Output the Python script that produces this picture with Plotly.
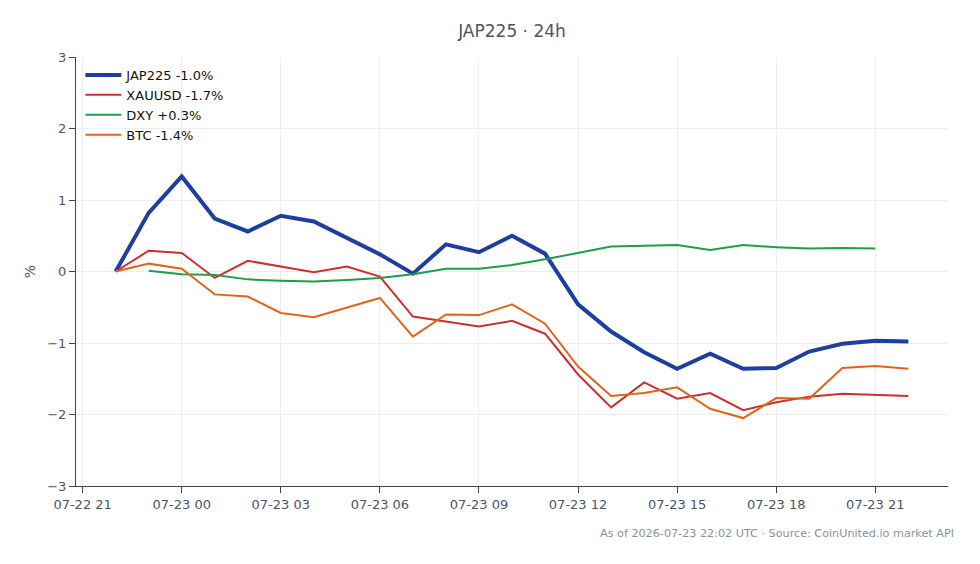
import plotly.graph_objects as go
import pandas as pd

times = pd.date_range("2026-07-22 22:00", "2026-07-23 22:00", freq="h")

jap225 = [0.0, 0.82, 1.33, 0.74, 0.56, 0.78, 0.70, 0.47, 0.24, -0.03, 0.38, 0.27, 0.50,
          0.25, -0.46, -0.84, -1.13, -1.36, -1.15, -1.36, -1.35, -1.12, -1.01, -0.97, -0.98]
xauusd = [0.0, 0.29, 0.26, -0.09, 0.15, 0.07, -0.01, 0.07, -0.07, -0.63, -0.70, -0.77, -0.69,
          -0.87, -1.44, -1.90, -1.55, -1.78, -1.70, -1.94, -1.83, -1.75, -1.71, -1.72, -1.74]
dxy = [None, 0.01, -0.04, -0.05, -0.11, -0.13, -0.14, -0.12, -0.09, -0.04, 0.04, 0.04, 0.09,
       0.17, 0.26, 0.35, 0.36, 0.37, 0.30, 0.37, 0.34, 0.32, 0.33, 0.32, None]
btc = [0.0, 0.11, 0.04, -0.32, -0.35, -0.58, -0.64, -0.51, -0.37, -0.91, -0.60, -0.61, -0.46,
       -0.73, -1.33, -1.74, -1.70, -1.62, -1.92, -2.05, -1.77, -1.78, -1.35, -1.32, -1.36]

names = ["JAP225 -1.0%", "XAUUSD -1.7%", "DXY +0.3%", "BTC -1.4%"]
colors = ["#1f3f9e", "#cc2f2f", "#1f9e48", "#e0641c"]
widths = [4, 2, 2, 2]
series = [jap225, xauusd, dxy, btc]

tick_vals = pd.date_range("2026-07-22 21:00", "2026-07-23 21:00", freq="3h")
tick_text = [t.strftime("%m-%d %H") for t in tick_vals]

fig = go.Figure()
for name, vals, c, w in zip(names, series, colors, widths):
    fig.add_trace(go.Scatter(x=times, y=vals, mode="lines", name=name,
                             line=dict(color=c, width=w), connectgaps=False))

fig.add_shape(type="line", xref="paper", x0=0, x1=1, yref="y", y0=0, y1=0,
              line=dict(color="#8a9bb0", width=1.2, dash="dash"), layer="below")

axis_color = "#3b4656"
font_color = "#4a5568"
fig.update_layout(
    width=980, height=564,
    margin=dict(l=76, r=32, t=57, b=78),
    paper_bgcolor="white", plot_bgcolor="white",
    font=dict(family="DejaVu Sans", size=13, color=font_color),
    title=dict(text="JAP225 · 24h", x=0.5, xref="paper", y=0.945, yanchor="middle",
               font=dict(size=17, color=font_color)),
    showlegend=True,
    legend=dict(x=0.005, y=0.993, xanchor="left", yanchor="top", bgcolor="rgba(0,0,0,0)",
                font=dict(size=13, color="#111111"), tracegroupgap=0, itemwidth=36),
    xaxis=dict(range=["2026-07-22 20:48", "2026-07-23 23:12"], tickvals=tick_vals, ticktext=tick_text,
               showline=True, linecolor=axis_color, linewidth=1.2, ticks="outside", ticklen=6,
               tickcolor=axis_color, showgrid=True, gridcolor="#ebedf0", zeroline=False,
               tickfont=dict(size=13, color=font_color)),
    yaxis=dict(range=[-3, 3], dtick=1, showline=True, linecolor=axis_color, linewidth=1.2,
               ticks="outside", ticklen=6, tickcolor=axis_color, showgrid=True, gridcolor="#ebedf0",
               zeroline=False, title=dict(text="%", standoff=8, font=dict(size=14, color=font_color)),
               tickfont=dict(size=13, color=font_color)),
)
fig.add_annotation(text="As of 2026-07-23 22:02 UTC · Source: CoinUnited.io market API",
                   xref="paper", yref="paper", x=1.009, y=-0.11, xanchor="right", yanchor="middle",
                   showarrow=False, font=dict(size=11.2, color="#8a929c"))

fig.write_html("out.html")
